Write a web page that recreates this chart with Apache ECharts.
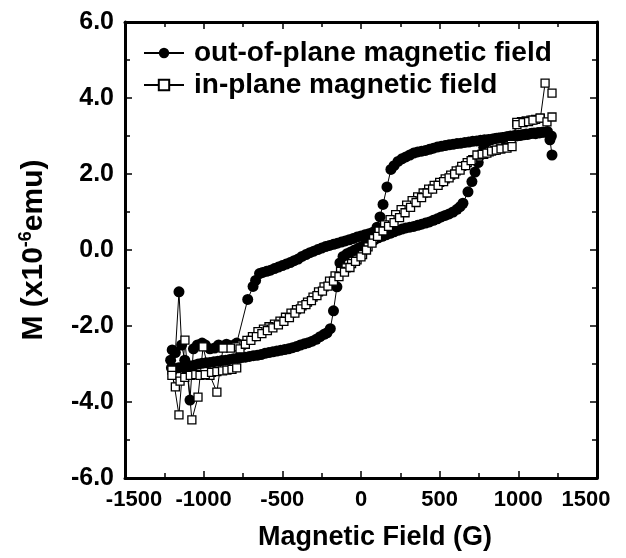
<!DOCTYPE html>
<html>
<head>
<meta charset="utf-8">
<script src="https://cdn.jsdelivr.net/npm/echarts@6/dist/echarts.min.js"></script>
<style>
html,body{margin:0;padding:0;background:#fff;}
#chart{width:626px;height:558px;}
</style>
</head>
<body>
<div id="chart"></div>
<script>
// ---- Data ----
var seriesNames = ['out-of-plane magnetic field', 'in-plane magnetic field'];
var xTickValues = [-1500, -1000, -500, 0, 500, 1000, 1500];
var yTickValues = [-6.0, -4.0, -2.0, 0.0, 2.0, 4.0, 6.0];

// out-of-plane loop (filled circles), in sweep order
var outH = [
  1210,1185,1160,1135,1110,1085,1060,1035,1010,985,960,935,910,885,860,835,810,785,760,735,710,685,660,635,610,585,560,535,510,485,460,435,410,385,360,335,310,285,260,235,210,190,165,140,121,
  102,76,50,25,0,-25,-50,-75,-100,-125,-150,-175,-200,-225,-250,-275,-300,-325,-350,-375,-400,-425,-450,-475,-500,-525,-550,-575,-600,-625,-645,
  -670,-686,-720,-790,
  -805,-830,-855,-880,-905,-930,-960,-990,-1010,-1040,-1065,-1087,-1105,-1120,-1140,-1157,-1180,-1200,-1210,-1205,
  -1185,-1160,-1135,-1110,-1085,-1060,-1035,-1010,-985,-960,-935,-910,-885,-860,-835,-810,-785,-760,-735,-710,-685,-660,-635,-610,-585,-560,-535,-510,-485,-460,-435,-410,-385,-360,-335,-310,-285,-260,-235,-216,-195,
  -175,-153,-134,
  -114,-90,-65,-40,-15,10,35,60,85,110,135,160,185,210,235,260,285,310,335,360,385,410,435,460,485,510,535,560,585,610,630,648,680,705,725,745,760,780,
  800,825,850,875,900,925,950,975,1000,1025,1050,1075,1100,1125,1150,1175,1201,1214
];
var outM = [
  3.00,3.12,3.10,3.08,3.06,3.07,3.04,3.03,3.01,3.00,2.99,2.98,2.96,2.95,2.94,2.92,2.91,2.90,2.89,2.87,2.86,2.84,2.83,2.81,2.80,2.78,2.77,2.75,2.73,2.71,2.68,2.65,2.62,2.60,2.58,2.55,2.50,2.45,2.40,2.33,2.22,2.12,1.66,1.20,0.87,
  0.60,0.47,0.43,0.40,0.37,0.34,0.30,0.27,0.24,0.21,0.18,0.15,0.12,0.09,0.05,0.01,-0.03,-0.07,-0.12,-0.17,-0.24,-0.28,-0.33,-0.37,-0.41,-0.45,-0.49,-0.53,-0.56,-0.59,-0.62,
  -0.80,-0.96,-1.30,-2.45,
  -2.50,-2.52,-2.48,-2.55,-2.50,-2.58,-2.60,-2.50,-2.45,-2.50,-2.60,-3.95,-3.20,-2.90,-2.50,-1.10,-2.70,-2.63,-2.90,-3.10,
  -3.12,-3.10,-3.08,-3.06,-3.05,-3.03,-3.00,-2.98,-2.97,-2.96,-2.94,-2.93,-2.91,-2.90,-2.88,-2.86,-2.85,-2.83,-2.82,-2.80,-2.78,-2.77,-2.75,-2.72,-2.70,-2.68,-2.66,-2.64,-2.62,-2.60,-2.57,-2.54,-2.50,-2.47,-2.44,-2.40,-2.35,-2.28,-2.22,-2.18,-2.07,
  -1.60,-0.97,-0.34,
  -0.17,-0.10,-0.05,0.00,0.05,0.10,0.16,0.21,0.27,0.32,0.36,0.40,0.44,0.48,0.52,0.55,0.58,0.60,0.62,0.65,0.68,0.71,0.74,0.78,0.82,0.87,0.91,0.95,1.00,1.07,1.14,1.23,1.53,1.80,2.05,2.30,2.50,2.70,
  2.85,2.90,2.93,2.95,2.96,2.98,3.00,3.01,3.02,3.03,3.05,3.06,3.08,3.09,3.10,3.10,2.90,2.50
];

// in-plane loop (open squares), in sweep order
var inH = [
  1214,1170,1140,1110,1080,1050,1020,990,955,920,885,850,815,780,745,710,675,640,605,570,535,500,465,430,395,360,325,290,255,220,185,150,115,80,45,10,-25,-60,-95,-130,-165,-200,-235,-270,-305,-340,-375,-410,-445,-480,-515,-550,-585,-620,-655,-690,-725,-760,-795,-830,-877,
  -916,-960,-1004,-1036,-1075,-1119,-1157,-1202,
  -1202,-1180,-1150,-1120,-1085,-1050,-1023,-990,-950,-916,-880,-852,-820,-790,-769,-735,-700,-665,-630,-595,-560,-525,-490,-455,-420,-385,-350,-315,-280,-245,-210,-175,-140,-105,-70,-35,0,35,70,105,140,175,210,245,280,315,350,385,420,455,490,525,560,595,630,665,700,737,770,800,830,860,890,928,960,
  991,1030,1065,1093,1138,1182,1214
];
var inM = [
  4.13,4.39,3.47,3.44,3.42,3.40,3.38,3.36,2.78,2.70,2.66,2.62,2.58,2.52,2.45,2.38,2.30,2.20,2.08,1.97,1.87,1.78,1.70,1.60,1.50,1.40,1.30,1.18,1.06,0.93,0.80,0.66,0.50,0.30,0.08,-0.12,-0.26,-0.36,-0.47,-0.56,-0.68,-0.82,-0.97,-1.10,-1.24,-1.37,-1.47,-1.57,-1.66,-1.77,-1.87,-1.95,-2.02,-2.08,-2.15,-2.28,-2.38,-2.50,-2.55,-2.58,-2.58,
  -3.74,-3.30,-2.55,-3.87,-4.47,-2.37,-4.34,-3.16,
  -3.30,-3.60,-3.45,-3.35,-3.30,-3.28,-3.30,-3.28,-3.22,-3.20,-3.18,-3.16,-3.14,-3.10,-2.60,-2.48,-2.38,-2.28,-2.20,-2.12,-2.05,-1.97,-1.88,-1.78,-1.66,-1.55,-1.44,-1.33,-1.20,-1.08,-0.95,-0.82,-0.70,-0.58,-0.46,-0.30,-0.18,0.00,0.18,0.36,0.50,0.62,0.72,0.85,0.98,1.12,1.25,1.38,1.50,1.60,1.70,1.80,1.90,2.00,2.10,2.22,2.35,2.50,2.52,2.55,2.60,2.63,2.66,2.68,2.72,
  3.30,3.35,3.38,3.42,3.47,3.37,3.50
];

function pairs(xs, ys) {
  var out = [];
  for (var i = 0; i < xs.length; i++) out.push([xs[i], ys[i]]);
  return out;
}

var FONT = '"Liberation Sans", Arial, Helvetica, sans-serif';
var chart = echarts.init(document.getElementById('chart'), null, {renderer: 'canvas'});

var xLabelRich = {
  first: {color: '#000', fontFamily: FONT, fontWeight: 'bold', fontSize: 22, padding: [0, 0, 0, 18]},
  last: {color: '#000', fontFamily: FONT, fontWeight: 'bold', fontSize: 22, padding: [0, 22, 0, 0]}
};

function xAxisCfg(pos, showLabel) {
  return {
    type: 'value', position: pos, min: xTickValues[0], max: xTickValues[xTickValues.length - 1],
    interval: 500,
    axisLine: {show: true, onZero: false, lineStyle: {color: '#000', width: 3}},
    axisTick: {show: true, inside: true, length: 7, lineStyle: {color: '#000', width: 1.5}},
    minorTick: {show: true, splitNumber: 2, length: 5, lineStyle: {color: '#000', width: 1.5}},
    splitLine: {show: false}, minorSplitLine: {show: false},
    axisLabel: {show: showLabel, color: '#000', fontFamily: FONT, fontWeight: 'bold', fontSize: 22, margin: 11,
      rich: xLabelRich,
      formatter: function (v) {
        if (v === xTickValues[0]) return '{first|' + v + '}';
        if (v === xTickValues[xTickValues.length - 1]) return '{last|' + v + '}';
        return String(v);
      }},
    name: showLabel ? 'Magnetic Field (G)' : '',
    nameLocation: 'middle', nameGap: 46,
    nameTextStyle: {color: '#000', fontFamily: FONT, fontWeight: 'bold', fontSize: 27, padding: [0, 0, 0, 28]}
  };
}
function yAxisCfg(pos, showLabel) {
  return {
    type: 'value', position: pos, min: yTickValues[0], max: yTickValues[yTickValues.length - 1],
    interval: 2,
    axisLine: {show: true, onZero: false, lineStyle: {color: '#000', width: 3}},
    axisTick: {show: true, inside: true, length: 7, lineStyle: {color: '#000', width: 1.5}},
    minorTick: {show: true, splitNumber: 2, length: 5, lineStyle: {color: '#000', width: 1.5}},
    splitLine: {show: false}, minorSplitLine: {show: false},
    axisLabel: {show: showLabel, color: '#000', fontFamily: FONT, fontWeight: 'bold', fontSize: 25, margin: 11,
      formatter: function (v) { return v.toFixed(1); }},
    name: showLabel ? '{a|M (x10}{s|-6}{a|emu)}' : '',
    nameLocation: 'middle', nameGap: 74, nameRotate: 90,
    nameTextStyle: {
      color: '#000', fontFamily: FONT, fontWeight: 'bold', fontSize: 30,
      rich: {
        a: {color: '#000', fontFamily: FONT, fontWeight: 'bold', fontSize: 30, lineHeight: 34},
        s: {color: '#000', fontFamily: FONT, fontWeight: 'bold', fontSize: 18, verticalAlign: 'top', lineHeight: 34, padding: [0, 0, 12, 0]}
      }
    }
  };
}

var option = {
  animation: false,
  backgroundColor: '#fff',
  grid: {left: 125, right: 29, top: 22, bottom: 80, containLabel: false},
  legend: {
    orient: 'vertical', left: 138, top: 34,
    itemWidth: 40, itemHeight: 13, itemGap: 4,
    data: seriesNames,
    textStyle: {color: '#000', fontFamily: FONT, fontWeight: 'bold', fontSize: 28, padding: [0, 0, 0, 5]}
  },
  xAxis: [xAxisCfg('bottom', true), xAxisCfg('top', false)],
  yAxis: [yAxisCfg('left', true), yAxisCfg('right', false)],
  series: [
    {
      name: seriesNames[0], type: 'line', xAxisIndex: 0, yAxisIndex: 0,
      data: pairs(outH, outM),
      symbol: 'circle', symbolSize: 11, showAllSymbol: true, showSymbol: true,
      lineStyle: {color: '#000', width: 1},
      itemStyle: {color: '#000', borderColor: '#000', borderWidth: 0},
      z: 2
    },
    {
      name: seriesNames[1], type: 'line', xAxisIndex: 0, yAxisIndex: 0,
      data: pairs(inH, inM),
      symbol: 'rect', symbolSize: 8, showAllSymbol: true, showSymbol: true,
      lineStyle: {color: '#000', width: 1},
      itemStyle: {color: '#fff', borderColor: '#000', borderWidth: 1.3},
      z: 3
    }
  ]
};
chart.setOption(option);
</script>
</body>
</html>
